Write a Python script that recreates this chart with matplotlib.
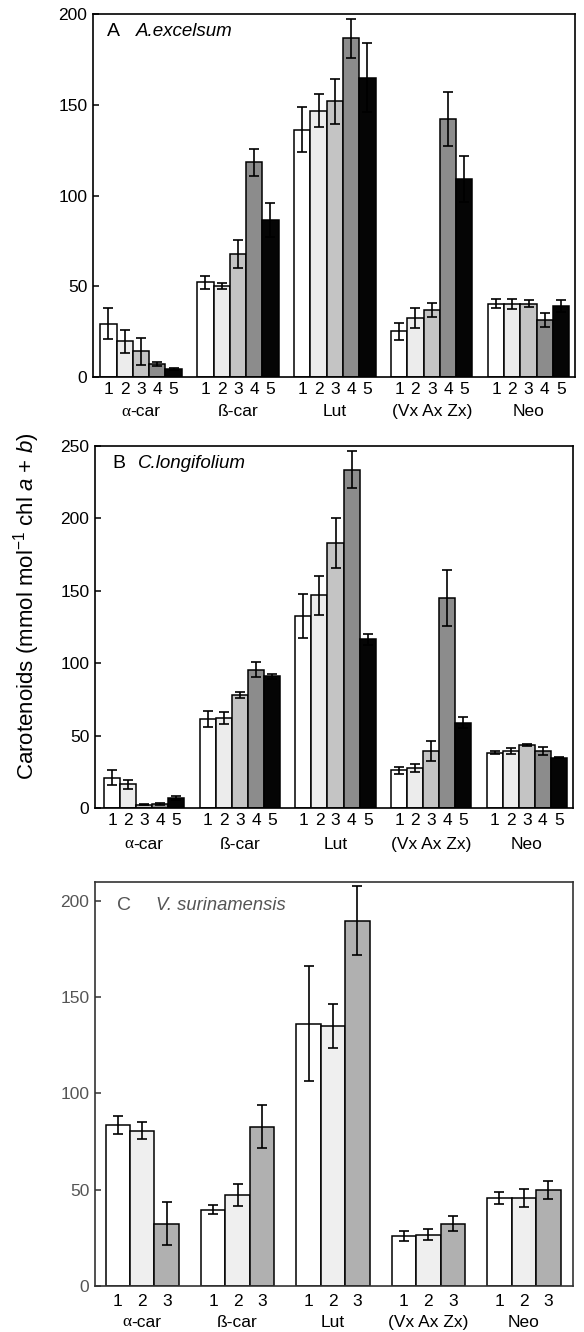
import matplotlib
matplotlib.use("Agg")
import matplotlib.pyplot as plt
import numpy as np

plt.rcParams['font.family'] = ['Liberation Sans', 'DejaVu Sans']
plt.rcParams['mathtext.fontset'] = 'custom'
plt.rcParams['mathtext.rm'] = 'Liberation Sans'
plt.rcParams['mathtext.it'] = 'Liberation Sans:italic'

groups = ["\u03b1-car", "\u00df-car", "Lut", "(Vx Ax Zx)", "Neo"]

# Panel A: A. excelsum (treatments 1-5)
a_vals = [[29.4, 19.6, 14.1, 7.3, 4.4],
          [52.1, 50.3, 67.9, 118.2, 86.6],
          [136.1, 146.8, 151.9, 186.6, 165.0],
          [25.1, 32.5, 37.1, 142.0, 109.2],
          [40.4, 40.4, 40.4, 31.2, 38.9]]
a_errs = [[8.4, 6.2, 7.3, 1.1, 0.5],
          [3.5, 1.6, 7.8, 7.2, 9.5],
          [12.4, 9.1, 12.4, 10.8, 19.0],
          [4.8, 5.3, 3.9, 14.8, 12.8],
          [2.3, 2.8, 2.0, 3.8, 3.3]]

# Panel B: C. longifolium
b_vals = [[20.9, 16.3, 2.3, 3.0, 6.9],
          [61.2, 62.2, 78.3, 95.5, 90.9],
          [132.6, 146.9, 183.0, 233.7, 116.5],
          [26.0, 27.6, 39.4, 145.0, 58.9],
          [38.2, 39.4, 43.7, 39.4, 34.8]]
b_errs = [[5.2, 2.9, 0.5, 0.7, 1.4],
          [5.6, 3.9, 2.0, 5.2, 1.8],
          [15.5, 13.4, 17.0, 12.7, 3.9],
          [2.3, 2.5, 6.9, 19.2, 3.9],
          [1.2, 2.0, 0.7, 2.8, 0.3]]

# Panel C: V. surinamensis (treatments 1-3)
c_vals = [[83.6, 80.7, 32.4],
          [39.7, 47.4, 82.8],
          [136.2, 135.0, 189.7],
          [25.9, 26.7, 32.4],
          [45.7, 45.7, 49.7]]
c_errs = [[4.5, 4.3, 11.2],
          [2.5, 5.8, 11.0],
          [30.0, 11.2, 18.0],
          [2.6, 3.0, 3.8],
          [3.1, 4.8, 4.6]]

colors5 = ['#ffffff', '#ececec', '#c4c4c4', '#8c8c8c', '#050505']
colors3 = ['#ffffff', '#efefef', '#b0b0b0']

W, H = 584, 1332
FS = 12.5
fig = plt.figure(figsize=(W / 100, H / 100), dpi=100)


def make_axes(l, r, t, b):
    return fig.add_axes([l / W, 1 - b / H, (r - l) / W, (b - t) / H])


def group_label(ax, x, text, lab_off):
    kw = dict(xy=(x, 0), xycoords=('data', 'axes fraction'),
              textcoords='offset points', va='center', fontsize=FS,
              color='black')
    if text.startswith("\u03b1"):
        ax.annotate("\u03b1", xytext=(-7.6, -lab_off), ha='right',
                    family=['Liberation Serif'], **kw)
        ax.annotate(text[1:], xytext=(-7.6, -lab_off), ha='left', **kw)
    else:
        ax.annotate(text, xytext=(0, -lab_off), ha='center', **kw)


def draw_panel(ax, vals, errs, colors, spacing, xlim, ylim, yticks,
               letter, species, letter_xy, species_xy, tick_pad, lab_off,
               sp_fs, txtcolor='black', spinecolor='black'):
    n = len(colors)
    xs_all, labs = [], []
    for g, (gv, ge) in enumerate(zip(vals, errs)):
        xs = g * spacing + np.arange(n)
        ax.bar(xs, gv, width=1.0, color=colors, edgecolor='black',
               linewidth=1.1, zorder=2)
        ax.errorbar(xs, gv, yerr=ge, fmt='none', ecolor='black',
                    elinewidth=1.2, capsize=3.3, capthick=1.2, zorder=3)
        xs_all.extend(xs)
        labs.extend([str(i + 1) for i in range(n)])
        group_label(ax, xs.mean(), groups[g], lab_off)
    ax.set_xlim(*xlim)
    ax.set_ylim(*ylim)
    ax.set_xticks(xs_all)
    ax.set_xticklabels(labs, fontsize=FS)
    ax.set_yticks(yticks)
    ax.set_yticklabels([str(v) for v in yticks], fontsize=FS,
                       color=txtcolor)
    ax.tick_params(axis='x', length=0, pad=tick_pad)
    ax.tick_params(axis='y', direction='in', length=4, width=1.1, pad=4,
                   color=spinecolor)
    for s in ax.spines.values():
        s.set_linewidth(1.2)
        s.set_color(spinecolor)
    ax.text(letter_xy[0], letter_xy[1], letter, transform=None,
            fontsize=14, ha='left', va='center', color=txtcolor)
    ax.text(species_xy[0], species_xy[1], species, transform=None,
            fontsize=sp_fs, style='italic', ha='left', va='center',
            color=txtcolor)


def px(x, y):
    return (x, H - y)


axA = make_axes(93, 575, 14, 377)
draw_panel(axA, a_vals, a_errs, colors5, 5.95, (-0.95, 28.65), (0, 200),
           [0, 50, 100, 150, 200], 'A', 'A.excelsum',
           px(107, 32), px(136, 32), 3.6, 25, 13.5)

axB = make_axes(95, 573, 446, 808)
draw_panel(axB, b_vals, b_errs, colors5, 5.95, (-1.06, 28.67), (0, 250),
           [0, 50, 100, 150, 200, 250], 'B', 'C.longifolium',
           px(112, 463), px(138, 463), 3.6, 26, 13.5)

axC = make_axes(95, 573, 882, 1286)
draw_panel(axC, c_vals, c_errs, colors3, 3.9, (-0.93, 18.61), (0, 209.8),
           [0, 50, 100, 150, 200], 'C', 'V. surinamensis',
           px(117, 906), px(156, 906), 5.5, 26, 13.2,
           txtcolor='#555555', spinecolor='#333333')

fig.text(27 / W, 1 - 606 / H,
         'Carotenoids (mmol mol$^{-1}$ chl $a$ + $b$)',
         rotation=90, ha='center', va='center', fontsize=16)

fig.savefig('out.png', dpi=100)
